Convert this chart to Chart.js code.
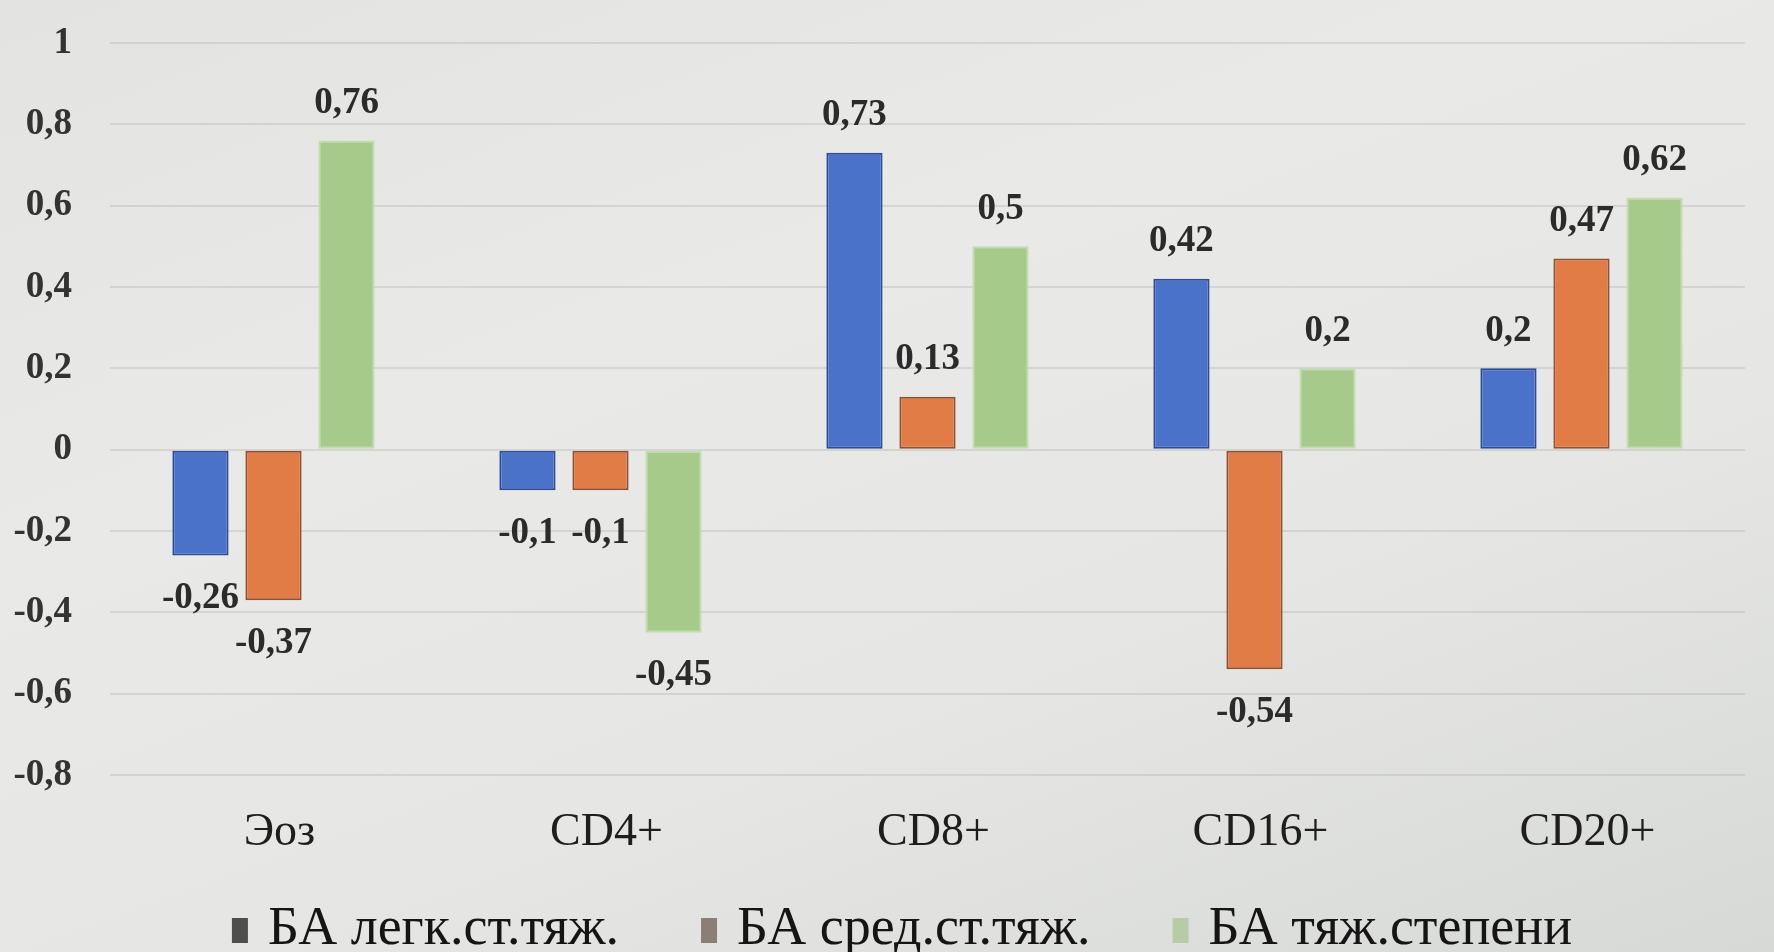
<!DOCTYPE html>
<html>
<head>
<meta charset="utf-8">
<script src="https://cdn.jsdelivr.net/npm/chart.js@4/dist/chart.umd.min.js"></script>
<style>
  html, body { margin: 0; padding: 0; background: #e6e6e4; }
  #wrap {
    width: 1774px; height: 952px; position: relative;
    background: linear-gradient(160deg, #e3e3e1 0%, #e9e9e7 35%, #e6e7e5 65%, #d7d9d7 100%);
  }
</style>
</head>
<body>
<div id="wrap"><canvas id="chart"></canvas></div>
<script>
// Categories and series
const categories = ['Эоз', 'CD4+', 'CD8+', 'CD16+', 'CD20+'];
const seriesNames = ['БА легк.ст.тяж.', 'БА сред.ст.тяж.', 'БА тяж.степени'];
const mildValues = [-0.26, -0.1, 0.73, 0.42, 0.2];
const moderateValues = [-0.37, -0.1, 0.13, -0.54, 0.47];
const severeValues = [0.76, -0.45, 0.5, 0.2, 0.62];

// Axis range
const yMin = -0.8;
const yMax = 1;
const yStep = 0.2;

// Colours
const fillColors = ['#4a72c9', '#e27c46', '#a6ca89'];
const borderColors = ['#2c4c98', '#8e5233', '#c3dbb0'];
const legendSwatches = ['#4e4e4e', '#8a7e77', '#b9cba6'];

const FONT = "'Liberation Serif', 'Times New Roman', serif";

function fmt(v) {
  if (v === 0) return '0';
  if (Number.isInteger(v)) return String(v);
  return String(+v.toFixed(2)).replace('.', ',');
}

// Value labels drawn above positive bars and below negative ones
const valueLabels = {
  id: 'valueLabels',
  afterDatasetsDraw(chart) {
    const ctx = chart.ctx;
    ctx.save();
    ctx.font = 'bold 37px ' + FONT;
    ctx.fillStyle = '#2b2b2b';
    ctx.textAlign = 'center';
    ctx.textBaseline = 'middle';
    chart.data.datasets.forEach((ds, i) => {
      const meta = chart.getDatasetMeta(i);
      meta.data.forEach((bar, j) => {
        const v = ds.data[j];
        const y = v >= 0 ? bar.y - 37 : bar.y + 43;
        ctx.fillText(fmt(v), bar.x, y);
      });
    });
    ctx.restore();
  }
};

// Series key along the bottom edge: swatch + name, centred as one row
const seriesKey = {
  id: 'seriesKey',
  afterDraw(chart) {
    const ctx = chart.ctx;
    const gapText = 36, gapItems = 82, centreX = 902, centreY = 930;
    ctx.save();
    ctx.font = '54px ' + FONT;
    ctx.textBaseline = 'middle';
    ctx.textAlign = 'left';
    const widths = seriesNames.map(n => ctx.measureText(n).width);
    const total = widths.reduce((a, w) => a + gapText + w, 0) + gapItems * (seriesNames.length - 1);
    let x = centreX - total / 2;
    seriesNames.forEach((name, i) => {
      ctx.fillStyle = legendSwatches[i];
      ctx.fillRect(x, centreY - 12, 16, 25);
      ctx.fillStyle = '#151515';
      ctx.fillText(name, x + gapText, centreY);
      x += gapText + widths[i] + gapItems;
    });
    ctx.restore();
  }
};

const datasets = [mildValues, moderateValues, severeValues].map((vals, i) => ({
  label: seriesNames[i],
  data: vals,
  backgroundColor: fillColors[i],
  borderColor: borderColors[i],
  borderWidth: 2,
  borderSkipped: false,
  barPercentage: 0.77,
  categoryPercentage: 0.67
}));

new Chart(document.getElementById('chart'), {
  type: 'bar',
  data: { labels: categories, datasets },
  plugins: [valueLabels, seriesKey],
  options: {
    responsive: true,
    maintainAspectRatio: false,
    animation: false,
    layout: { padding: { top: 43, right: 29, bottom: 92, left: 14 } },
    plugins: {
      tooltip: { enabled: false },
      legend: { display: false }
    },
    scales: {
      x: {
        grid: { display: false, drawTicks: false },
        border: { display: false },
        ticks: {
          font: { family: FONT, size: 46 },
          color: '#1e1e1e',
          padding: 30,
          labelOffset: 6
        },
        afterFit(scale) { scale.height = 85; }
      },
      y: {
        min: yMin,
        max: yMax,
        grid: { color: 'rgba(140,140,138,0.22)', lineWidth: 2, drawTicks: false },
        border: { display: false },
        ticks: {
          stepSize: yStep,
          font: { family: FONT, size: 37, weight: 'bold' },
          color: '#333333',
          padding: 38,
          callback: (v) => fmt(Math.round(v * 10) / 10)
        },
        afterFit(scale) {
          scale.width = 96;
          scale.paddingTop = 0;
          scale.paddingBottom = 0;
        }
      }
    }
  }
});
</script>
</body>
</html>
